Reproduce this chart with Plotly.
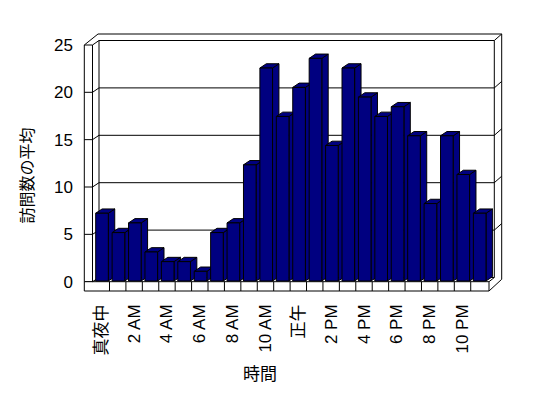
import plotly.graph_objects as go

# ---- data ----
hours = list(range(24))
visits = [7, 5, 6, 3, 2, 2, 1, 5, 6, 12, 22, 17, 20, 23, 14, 22, 19, 17, 18, 15, 8, 15, 11, 7]
tick_hours = [0, 2, 4, 6, 8, 10, 12, 14, 16, 18, 20, 22]
tick_labels = ["真夜中", "2 AM", "4 AM", "6 AM", "8 AM", "10 AM", "正午",
               "2 PM", "4 PM", "6 PM", "8 PM", "10 PM"]
y_ticks = [0, 5, 10, 15, 20, 25]
x_title = "時間"
y_title = "訪問数の平均"

# ---- layout geometry (pixels) ----
W, H = 548, 398
PL, PR, PT, PB = 84, 504, 30, 292          # plot area
CAT0, CATW = 93.07, 16.42                  # category band start / width
BASE, UNIT = 281.0, 9.68                   # bar value scale
FBASE, FUNIT = 281.7, 9.47                 # front axis scale
BBASE, BUNIT = 277.5, 9.48                 # back wall scale
NAVY = "#000080"
INK = "#000000"
FONT = "Liberation Sans, Noto Sans CJK JP, sans-serif"

x_range = [(PL - CAT0) / CATW - 0.5, (PR - CAT0) / CATW - 0.5]
y2_range = [(BASE - PB) / UNIT, (BASE - PT) / UNIT]
y_range = [(FBASE - PB) / FUNIT, (FBASE - PT) / FUNIT]


def px(x):
    return (x - PL) / (PR - PL)


def py(y):
    return (PB - y) / (PB - PT)


shapes = []


def seg(x0, y0, x1, y1):
    shapes.append(dict(type="line", xref="paper", yref="paper",
                       x0=px(x0), y0=py(y0), x1=px(x1), y1=py(y1),
                       line=dict(color=INK, width=1), layer="below"))


def rect(x0, y0, x1, y1):
    shapes.append(dict(type="rect", xref="paper", yref="paper",
                       x0=px(x0), y0=py(y0), x1=px(x1), y1=py(y1),
                       fillcolor="white", line=dict(color=INK, width=1),
                       layer="below"))


# walls / floor frame
WF_L, WF_R, WB_L, WB_R, WO_R = 84.3, 92.5, 99.0, 494.3, 501.7
rect(WF_L, 45, WF_R, FBASE)                 # left wall front face
rect(WF_L, FBASE, 489, 291)                 # floor front face
seg(WF_L, 45, 98, 34)
seg(WF_R, 45, WB_L, 40.5)
seg(98, 34, WO_R, 34)
seg(WB_L, 40.5, WB_R, 40.5)
seg(WB_L, 40.5, WB_L, BBASE)
seg(WB_R, 40.5, WB_R, BBASE)
seg(WB_R, 40.5, WO_R, 34)
seg(WO_R, 34, WO_R, 279.3)
seg(WF_R, FBASE, WB_L, BBASE)
seg(WB_L, BBASE, WB_R, BBASE)
seg(489, FBASE, WB_R, BBASE)
seg(489, 291, WO_R, 279.3)
for k in range(1, 24):
    xk = CAT0 + CATW * k
    seg(xk, FBASE, xk, 291)

# gridlines
for v in y_ticks[1:-1]:
    fy = FBASE - FUNIT * v
    by = BBASE - BUNIT * v
    seg(WF_L, fy, WF_R, fy)
    seg(WF_R, fy, WB_L, by)
    seg(WB_L, by, WB_R, by)
    seg(WB_R, by, WO_R, by - 6.5)

# bar sides and tops (in data coordinates)
BAR_OFF, BAR_W = -0.34, 0.77
DDX, DDY = 6.4 / CATW, 4.3 / UNIT
for h, v in zip(hours, visits):
    L = h + BAR_OFF
    R = L + BAR_W
    side = f"M {R},0 L {R + DDX},{DDY} L {R + DDX},{v + DDY} L {R},{v} Z"
    top = f"M {L},{v} L {L + DDX},{v + DDY} L {R + DDX},{v + DDY} L {R},{v} Z"
    for path in (side, top):
        shapes.append(dict(type="path", xref="x", yref="y2", path=path,
                           fillcolor=NAVY, line=dict(color=INK, width=1),
                           layer="below"))

fig = go.Figure()
# invisible trace anchoring the front value axis so its labels are drawn
fig.add_trace(go.Scatter(x=[hours[0]] * len(y_ticks), y=y_ticks, mode="none",
                         hoverinfo="skip", showlegend=False))
fig.add_trace(go.Bar(x=hours, y=visits, yaxis="y2", width=BAR_W, offset=BAR_OFF,
                     marker=dict(color=NAVY, line=dict(color=INK, width=1)),
                     hoverinfo="skip", showlegend=False))

fig.update_layout(
    width=W, height=H, autosize=False,
    margin=dict(l=PL, r=W - PR, t=PT, b=H - PB, pad=0),
    paper_bgcolor="white", plot_bgcolor="white",
    font=dict(family=FONT, size=16, color=INK),
    shapes=shapes,
    showlegend=False,
    xaxis=dict(range=x_range, tickvals=tick_hours, ticktext=tick_labels,
               tickangle=-90, showgrid=False, zeroline=False, showline=False,
               ticks="", ticklabelstandoff=8,
               tickfont=dict(family=FONT, size=17, color=INK)),
    yaxis=dict(range=y_range, tickvals=y_ticks, showgrid=False, zeroline=False,
               showline=False, ticks="", ticklabelstandoff=10,
               tickfont=dict(family=FONT, size=17, color=INK)),
    yaxis2=dict(range=y2_range, overlaying="y", visible=False,
                showgrid=False, zeroline=False),
    annotations=[
        dict(text=y_title, xref="paper", yref="paper", x=px(27.5), y=py(176),
             showarrow=False, textangle=-90, xanchor="center", yanchor="middle",
             font=dict(family=FONT, size=16, color=INK)),
        dict(text=x_title, xref="paper", yref="paper", x=px(260), y=py(374),
             showarrow=False, xanchor="center", yanchor="middle",
             font=dict(family=FONT, size=17, color=INK)),
    ],
)

fig.write_html("out.html")
